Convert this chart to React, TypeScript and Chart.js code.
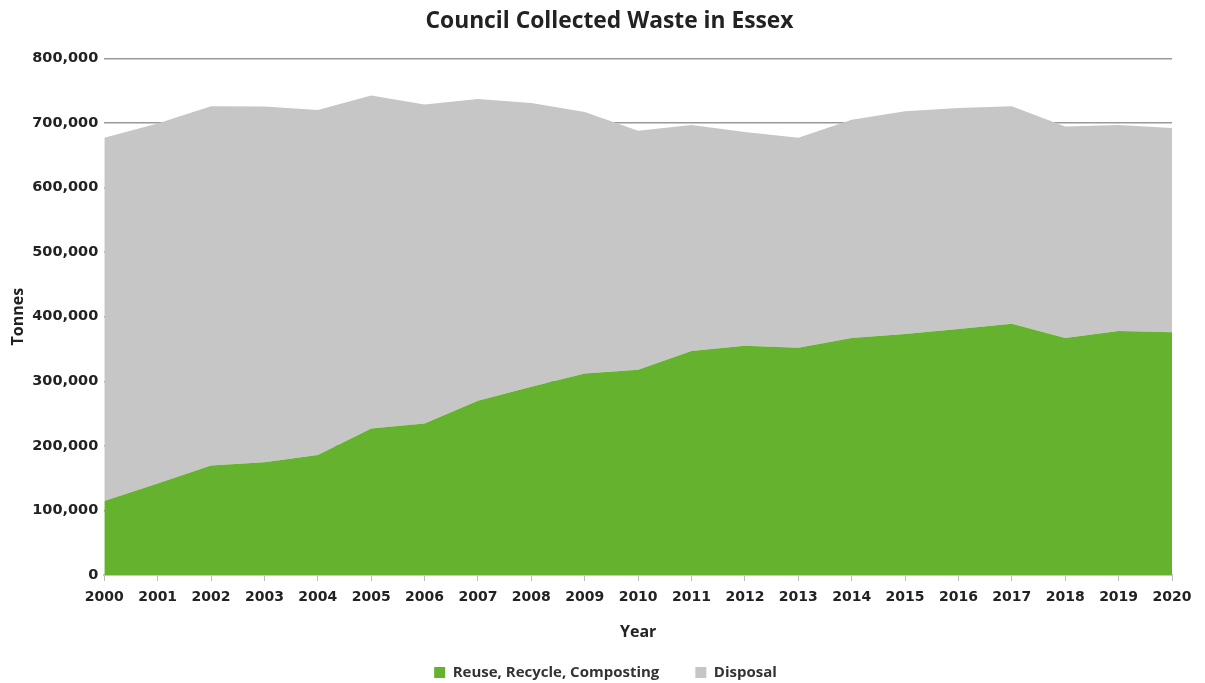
import React, { useEffect, useRef } from "react";
import { Chart, registerables } from "chart.js";

Chart.register(...registerables);

const years = ["2000","2001","2002","2003","2004","2005","2006","2007","2008","2009","2010","2011","2012","2013","2014","2015","2016","2017","2018","2019","2020"];
const recycled = [114700,141600,169500,174700,186000,226900,234600,270000,291500,312000,318000,346800,355000,352000,367000,373000,381000,389000,367000,378000,375700];
const totals = [677000,699000,726000,725600,720000,742600,728700,737000,731000,717000,688000,697000,686000,677000,705000,718000,723000,726000,694600,697000,692000];
const disposal = totals.map((t, i) => t - recycled[i]);
const yTicks = [0,100000,200000,300000,400000,500000,600000,700000,800000];

const shiftBlocks = {
  id: "shiftBlocks",
  afterLayout(chart: any) {
    if (chart.titleBlock) {
      chart.titleBlock.left += 19;
      chart.titleBlock.right += 19;
    }
    if (chart.legend) {
      chart.legend.left += 15;
      chart.legend.right += 15;
    }
  },
};

export default function App() {
  const ref = useRef<HTMLCanvasElement>(null);
  useEffect(() => {
    document.body.style.margin = "0";
    const ctx = ref.current!;
    const chart = new Chart(ctx, {
      type: "line",
      data: {
        labels: years,
        datasets: [
          {
            label: "Reuse, Recycle, Composting",
            data: recycled,
            backgroundColor: "#65B22E",
            borderColor: "#65B22E",
            borderWidth: 0,
            pointRadius: 0,
            fill: "origin",
            tension: 0,
          },
          {
            label: "Disposal",
            data: disposal,
            backgroundColor: "#C6C6C6",
            borderColor: "#C6C6C6",
            borderWidth: 0,
            pointRadius: 0,
            fill: "-1",
            tension: 0,
          },
        ],
      },
      plugins: [shiftBlocks],
      options: {
        animation: false,
        responsive: false,
        layout: { padding: { left: 9, right: 33, top: 6, bottom: -7 } },
        plugins: {
          title: {
            display: true,
            text: "Council Collected Waste in Essex",
            color: "#222",
            font: { family: "Open Sans", size: 22.8, weight: "bold" },
            padding: { top: 2, bottom: 23 },
          },
          legend: {
            position: "bottom",
            labels: {
              color: "#333",
              font: { family: "Open Sans", size: 15, weight: "bold" },
              boxWidth: 11,
              boxHeight: 11,
              padding: 36,
            },
          },
          tooltip: { enabled: false },
        },
        scales: {
          x: {
            offset: false,
            grid: {
              display: true,
              drawOnChartArea: false,
              drawTicks: true,
              tickLength: 6,
              color: "#bbb",
            },
            border: { color: "#c8c8c8", width: 2 },
            ticks: {
              color: "#222",
              font: { family: "DejaVu Sans", size: 14, weight: "bold" },
              maxRotation: 0,
              autoSkip: false,
              padding: 8,
            },
            title: {
              display: true,
              text: "Year",
              color: "#222",
              font: { family: "Open Sans", size: 16, weight: "bold" },
              padding: { top: 9, bottom: -13 },
            },
          },
          y: {
            stacked: true,
            min: 0,
            max: 800000,
            afterBuildTicks: (scale: any) => {
              scale.ticks = yTicks.map((v) => ({ value: v }));
            },
            grid: { color: "#999", drawTicks: false, lineWidth: 1.5 },
            border: { display: false },
            ticks: {
              color: "#222",
              font: { family: "DejaVu Sans", size: 14.5, weight: "bold" },
              padding: 6,
              callback: (v: any) => Number(v).toLocaleString("en-US"),
            },
            title: {
              display: true,
              text: "Tonnes",
              color: "#222",
              font: { family: "Open Sans", size: 16, weight: "bold" },
              padding: { top: 0, bottom: -2 },
            },
          },
        },
      },
    });
    return () => chart.destroy();
  }, []);
  return (
    <div style={{ position: "fixed", left: 0, top: 0, width: 1205, height: 683 }}>
      <canvas ref={ref} width={1205} height={683} />
    </div>
  );
}
